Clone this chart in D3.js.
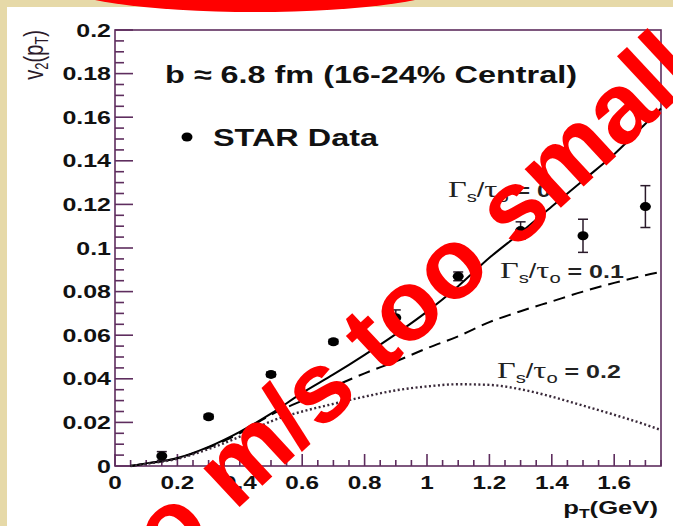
<!DOCTYPE html>
<html>
<head>
<meta charset="utf-8">
<script src="https://cdn.jsdelivr.net/npm/d3@7"></script>
<style>
  body { margin: 0; background: #fff; }
  text { font-family: "Liberation Sans", Arial, sans-serif; }
</style>
</head>
<body>
<div id="container"></div>
<script>
// hydro curves, v2 vs pT
const ptGrid  = [0.05, 0.1, 0.2, 0.3, 0.4, 0.5, 0.6, 0.7, 0.8, 0.9, 1.0, 1.1, 1.2, 1.3, 1.4, 1.5, 1.6, 1.7, 1.75];
const ideal   = [0, 0.0012, 0.0037, 0.0088, 0.0157, 0.024, 0.0335, 0.042, 0.051, 0.0605, 0.0708, 0.0825, 0.0955, 0.107, 0.119, 0.131, 0.143, 0.157, 0.164];
const visc01  = [0, 0.0011, 0.0035, 0.0085, 0.015, 0.0235, 0.030, 0.0364, 0.0425, 0.048, 0.054, 0.0595, 0.066, 0.071, 0.0755, 0.080, 0.084, 0.0875, 0.089];
const visc02  = [0, 0.001, 0.0033, 0.0078, 0.0135, 0.0205, 0.025, 0.0285, 0.0318, 0.0347, 0.0365, 0.0375, 0.0372, 0.0352, 0.0318, 0.0277, 0.0235, 0.019, 0.0165];

// STAR points
const starPt  = [0.15, 0.3, 0.5, 0.7, 0.9, 1.1, 1.3, 1.5, 1.7];
const starV2  = [0.0046, 0.0226, 0.042, 0.057, 0.068, 0.087, 0.108, 0.1056, 0.119];
const starErr = [0.002, 0.001, 0.001, 0.001, 0.0036, 0.002, 0.004, 0.0076, 0.0096];

const curveLabels = ["0", "0.1", "0.2"];

const W = 673, H = 526;
const sx = 1.35; // the slide picture is stretched sideways

const svg = d3.select("#container")
  .append("svg")
  .attr("width", W)
  .attr("height", H);

svg.append("rect").attr("width", W).attr("height", H).attr("fill", "#e6d9a8");
svg.append("rect").attr("x", 7).attr("y", 7).attr("width", W - 7).attr("height", H - 7).attr("fill", "#fff");

const x = d3.scaleLinear().domain([0, 1.75]).range([115, 661]);
const y = d3.scaleLinear().domain([0, 0.2]).range([466, 30]);
const axisCol = "#5e2d5e";

// frame
svg.append("rect")
  .attr("x", x(0)).attr("y", y(0.2))
  .attr("width", x(1.75) - x(0)).attr("height", y(0) - y(0.2))
  .attr("fill", "none").attr("stroke", axisCol).attr("stroke-width", 1.6);

// ticks
const yMinor = d3.ticks(0, 0.2, 40);
const yMajor = y.ticks(10);
svg.append("g").selectAll("line").data(yMinor).join("line")
  .attr("x1", x(0)).attr("x2", d => x(0) + (yMajor.some(m => Math.abs(m - d) < 1e-9) ? 18 : 9))
  .attr("y1", d => y(d)).attr("y2", d => y(d))
  .attr("stroke", axisCol).attr("stroke-width", 1.6);

const xMinor = d3.ticks(0, 1.75, 35);
const xMajor = d3.ticks(0, 1.6, 8);
svg.append("g").selectAll("line").data(xMinor).join("line")
  .attr("x1", d => x(d)).attr("x2", d => x(d))
  .attr("y1", y(0)).attr("y2", d => y(0) - (xMajor.some(m => Math.abs(m - d) < 1e-9) ? 12 : 6))
  .attr("stroke", axisCol).attr("stroke-width", 1.6);

const fmt = d3.format("~g");

function stretched(px, py, extra) {
  return svg.append("g").attr("transform", `translate(${px},${py}) scale(${sx},1)` + (extra || ""));
}

yMajor.forEach(d => {
  stretched(111, y(d) + 6.5).append("text")
    .attr("text-anchor", "end").attr("font-size", 18.5).attr("font-weight", "bold")
    .attr("fill", "#111").text(fmt(d));
});
xMajor.forEach(d => {
  stretched(x(d), 489).append("text")
    .attr("text-anchor", "middle").attr("font-size", 18).attr("font-weight", "bold")
    .attr("fill", "#111").text(fmt(d));
});

// axis titles
const yt = stretched(43, 30, " rotate(-90)").append("text")
  .attr("text-anchor", "end").attr("font-size", 20).attr("fill", "#2a1a2a");
yt.append("tspan").text("v");
yt.append("tspan").attr("font-size", 13).attr("dy", 4).text("2");
yt.append("tspan").attr("dy", -4).text("(p");
yt.append("tspan").attr("font-size", 13).attr("dy", 4).text("T");
yt.append("tspan").attr("dy", -4).text(")");

const xt = stretched(658, 514).append("text")
  .attr("text-anchor", "end").attr("font-size", 19).attr("font-weight", "bold").attr("fill", "#111");
xt.append("tspan").text("p");
xt.append("tspan").attr("font-size", 13).attr("dy", 4).text("T");
xt.append("tspan").attr("dy", -4).text("(GeV)");

// curves
const line = d3.line().x(d => x(d[0])).y(d => y(d[1])).curve(d3.curveMonotoneX);
svg.append("path").datum(d3.zip(ptGrid, ideal)).attr("d", line)
  .attr("fill", "none").attr("stroke", "#000").attr("stroke-width", 2);
svg.append("path").datum(d3.zip(ptGrid, visc01)).attr("d", line)
  .attr("fill", "none").attr("stroke", "#000").attr("stroke-width", 2)
  .attr("stroke-dasharray", "12,7");
svg.append("path").datum(d3.zip(ptGrid, visc02)).attr("d", line)
  .attr("fill", "none").attr("stroke", "#3a2a3a").attr("stroke-width", 2.4)
  .attr("stroke-dasharray", "2,2.5");

// data points
const pts = d3.zip(starPt, starV2, starErr);
const errG = svg.append("g").attr("stroke", "#2a1a2a").attr("stroke-width", 1.5);
errG.selectAll(".eb").data(pts).join("line").attr("class", "eb")
  .attr("x1", d => x(d[0])).attr("x2", d => x(d[0]))
  .attr("y1", d => y(d[1] - d[2])).attr("y2", d => y(d[1] + d[2]));
errG.selectAll(".ct").data(pts).join("line").attr("class", "ct")
  .attr("x1", d => x(d[0]) - 5).attr("x2", d => x(d[0]) + 5)
  .attr("y1", d => y(d[1] + d[2])).attr("y2", d => y(d[1] + d[2]));
errG.selectAll(".cb").data(pts).join("line").attr("class", "cb")
  .attr("x1", d => x(d[0]) - 5).attr("x2", d => x(d[0]) + 5)
  .attr("y1", d => y(d[1] - d[2])).attr("y2", d => y(d[1] - d[2]));
svg.append("g").selectAll("ellipse").data(pts).join("ellipse")
  .attr("cx", d => x(d[0])).attr("cy", d => y(d[1]))
  .attr("rx", 5.5).attr("ry", 4.5).attr("fill", "#000");

// title and legend
stretched(165, 83).append("text")
  .attr("font-size", 24).attr("font-weight", "bold").attr("fill", "#111")
  .text("b \u2248 6.8 fm (16-24% Central)");
svg.append("ellipse").attr("cx", 187).attr("cy", 137).attr("rx", 5.5).attr("ry", 4.5).attr("fill", "#000");
stretched(213, 146).append("text")
  .attr("font-size", 24).attr("font-weight", "bold").attr("fill", "#111")
  .text("STAR Data");

// curve labels
const labelPos = [[448, 197], [500, 278], [497, 378]];
curveLabels.forEach((lab, i) => {
  const t = stretched(labelPos[i][0], labelPos[i][1]).append("text").attr("fill", "#222");
  t.append("tspan").attr("font-family", "Liberation Serif, Times New Roman, serif").attr("font-size", 24).text("\u0393");
  t.append("tspan").attr("font-size", 15).attr("dy", 5).text("s");
  t.append("tspan").attr("font-size", 20).attr("dy", -5).text("/");
  t.append("tspan").attr("font-family", "Liberation Serif, Times New Roman, serif").attr("font-size", 24).text("\u03c4");
  t.append("tspan").attr("font-size", 15).attr("dy", 5).text("o");
  t.append("tspan").attr("font-size", 18.5).attr("font-weight", "bold").attr("dy", -5).text(" = " + lab);
});

// red overlay: oval at the top and the slanted remark
svg.append("ellipse").attr("cx", 255).attr("cy", -18).attr("rx", 200).attr("ry", 30).attr("fill", "#f00");
svg.append("text")
  .attr("transform", "translate(702,76) rotate(-43)")
  .attr("text-anchor", "end").attr("font-size", 100).attr("font-weight", "bold")
  .attr("fill", "#f00")
  .text("Hydro m/s too small");
</script>
</body>
</html>
